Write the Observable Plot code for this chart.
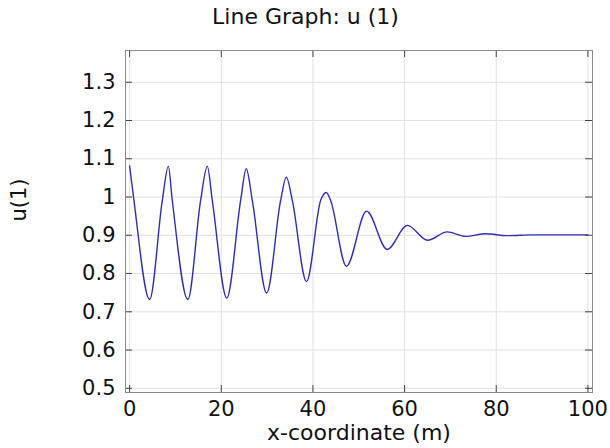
<!DOCTYPE html>
<html>
<head>
<meta charset="utf-8">
<script src="https://cdn.jsdelivr.net/npm/d3@7"></script>
<script src="https://cdn.jsdelivr.net/npm/@observablehq/plot@0.6"></script>
<style>
  html, body { margin: 0; padding: 0; background: #fff; }
  svg { display: block; }
</style>
</head>
<body>
<div id="chart"></div>
<script>
// Values
const titleText = "Line Graph: u (1)";
const xLabel = "x-coordinate (m)";
const yLabel = "u(1)";

const xValues = [0, 0.94, 4.36, 7.13, 8.45, 9.31, 12.7, 15.49, 16.95, 18.04, 21.2, 24.22, 25.45, 26.77, 29.9,
  32.95, 34.2, 35.5, 38.6, 41.68, 42.9, 43.86, 47.3, 51.7, 56.2, 60.6, 65.0, 69.3, 73.3, 77.7, 82.5, 88, 94, 100];
const uValues = [1.081, 0.991, 0.732, 0.991, 1.080, 0.991, 0.732, 0.991, 1.080, 0.991, 0.736, 0.991, 1.074, 0.991, 0.749,
  0.991, 1.052, 0.991, 0.779, 0.991, 1.012, 0.991, 0.819, 0.963, 0.863, 0.926, 0.887, 0.909, 0.897, 0.904, 0.899, 0.901, 0.901, 0.901];

const xTicks = [0, 20, 40, 60, 80, 100];
const yTicks = [0.5, 0.6, 0.7, 0.8, 0.9, 1.0, 1.1, 1.2, 1.3];
const xDomain = [-0.9, 101];
const yDomain = [0.489, 1.383];

const data = xValues.map((x, i) => ({x, u: uValues[i]}));

const W = 610, H = 448;
const mTop = 50, mBottom = 56, mLeft = 125, mRight = 18;
const plotW = W - mLeft - mRight, plotH = H - mTop - mBottom;
const tickLen = 7;
const dxTick = tickLen * (xDomain[1] - xDomain[0]) / plotW;
const dyTick = tickLen * (yDomain[1] - yDomain[0]) / plotH;

const font = "DejaVu Sans";
const fmtY = d => String(+d.toFixed(1));

const chart = Plot.plot({
  width: W,
  height: H,
  marginTop: mTop,
  marginBottom: mBottom,
  marginLeft: mLeft,
  marginRight: mRight,
  style: {fontFamily: font, fontSize: "21px", color: "#111", background: "#fff"},
  x: {domain: xDomain},
  y: {domain: yDomain},
  marks: [
    Plot.gridX(xTicks, {stroke: "#e2e2e2", strokeOpacity: 1}),
    Plot.gridY(yTicks, {stroke: "#e2e2e2", strokeOpacity: 1}),
    Plot.line(data, {x: "x", y: "u", stroke: "#2f2fb2", strokeWidth: 1.4, curve: "monotone-x"}),
    // inner ticks on all four sides
    Plot.ruleX(xTicks, {y1: yDomain[0], y2: yDomain[0] + dyTick, stroke: "#444"}),
    Plot.ruleX(xTicks, {y1: yDomain[1], y2: yDomain[1] - dyTick, stroke: "#444"}),
    Plot.ruleY(yTicks, {x1: xDomain[0], x2: xDomain[0] + dxTick, stroke: "#444"}),
    Plot.ruleY(yTicks, {x1: xDomain[1], x2: xDomain[1] - dxTick, stroke: "#444"}),
    Plot.frame({stroke: "#8a8a8a"}),
    Plot.axisX(xTicks, {anchor: "bottom", tickSize: 0, tickPadding: 9, label: null, fontSize: 21, fill: "#111"}),
    Plot.axisY(yTicks, {anchor: "left", tickSize: 0, tickPadding: 10, label: null, tickFormat: fmtY, fontSize: 21, fill: "#111"}),
    Plot.text([titleText], {frameAnchor: "top", lineAnchor: "bottom", dy: -27, dx: -53.5, fontSize: 22, fill: "#111"}),
    Plot.text([xLabel], {frameAnchor: "bottom", lineAnchor: "bottom", dy: 47, fontSize: 22, fill: "#111"}),
    Plot.text([yLabel], {frameAnchor: "left", lineAnchor: "middle", rotate: -90, dx: -106, fontSize: 21, fill: "#111"})
  ]
});

document.getElementById("chart").appendChild(chart);
</script>
</body>
</html>
